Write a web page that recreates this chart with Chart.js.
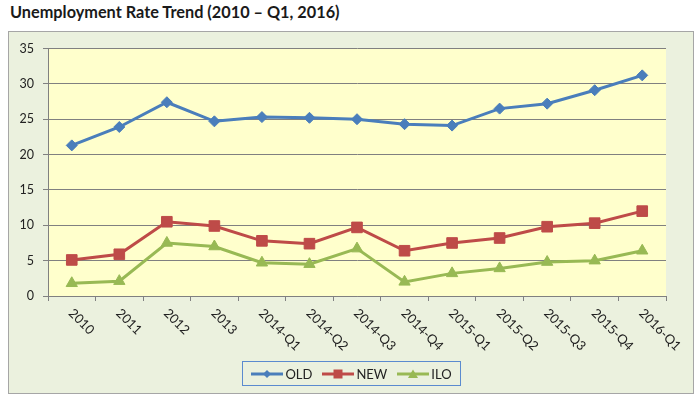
<!DOCTYPE html>
<html>
<head>
<meta charset="utf-8">
<script src="https://cdn.jsdelivr.net/npm/chart.js@4/dist/chart.umd.min.js"></script>
<style>
  body { margin: 0; width: 700px; height: 400px; background: #fff; position: relative; overflow: hidden; font-family: Lato, "Liberation Sans", sans-serif; }
  #title { position: absolute; left: 10px; top: 2px; font-size: 16.3px; font-weight: bold; color: #1a1a1a; white-space: nowrap; }
  #box { position: absolute; left: 8px; top: 31px; width: 684px; height: 361px; background: #ebf1de; border: 1px solid #a6a6a6; }
  #chart { position: absolute; left: 0; top: 0; }
  #legend { position: absolute; left: 233px; top: 329px; width: 217px; height: 23px; border: 1px solid #5b8bcf;
            display: flex; align-items: center; justify-content: center; gap: 10px; font-size: 13px; color: #222; }
  #legend span.item { display: flex; align-items: center; gap: 2px; }
</style>
</head>
<body>
<div id="title">Unemployment Rate Trend (2010 – Q1, 2016)</div>
<div id="box">
  <canvas id="chart" width="684" height="330" style="width:684px;height:330px"></canvas>
  <div id="legend"></div>
</div>
<script>
const categories = ['2010', '2011', '2012', '2013', '2014-Q1', '2014-Q2', '2014-Q3', '2014-Q4',
                    '2015-Q1', '2015-Q2', '2015-Q3', '2015-Q4', '2016-Q1'];
const oldRate = [21.3, 23.9, 27.4, 24.7, 25.3, 25.2, 25.0, 24.3, 24.1, 26.5, 27.2, 29.1, 31.2];
const newRate = [5.1, 5.9, 10.5, 9.9, 7.8, 7.4, 9.7, 6.4, 7.5, 8.2, 9.8, 10.3, 12.0];
const iloRate = [1.8, 2.1, 7.5, 7.0, 4.7, 4.5, 6.7, 2.0, 3.2, 3.9, 4.8, 5.0, 6.4];
const seriesNames = ['OLD', 'NEW', 'ILO'];
const yTicks = [0, 5, 10, 15, 20, 25, 30, 35];

const colors = ['#4a7ebb', '#be4b48', '#98b954'];
const markers = ['rectRot', 'rect', 'triangle'];
const radii = [5.5, 7.5, 6.5];
const gridColor = '#808080';
const fontFamily = 'Lato, "Liberation Sans", sans-serif';

// yellow plot area
const plotBg = {
  id: 'plotBg',
  beforeDraw(chart) {
    const { ctx, chartArea: a } = chart;
    ctx.save();
    ctx.fillStyle = '#ffffcc';
    ctx.fillRect(a.left, a.top, a.right - a.left, a.bottom - a.top);
    ctx.restore();
  }
};

// category labels turned 45 degrees clockwise, like the original
const slantLabels = {
  id: 'slantLabels',
  afterDraw(chart) {
    const { ctx } = chart;
    const xs = chart.scales.x;
    ctx.save();
    ctx.font = '13px ' + fontFamily;
    ctx.fillStyle = '#222';
    ctx.textAlign = 'left';
    ctx.textBaseline = 'middle';
    categories.forEach((c, i) => {
      ctx.save();
      ctx.translate(xs.getPixelForValue(i) - 1, xs.top + 15);
      ctx.rotate(Math.PI / 4);
      ctx.fillText(c, 0, 0);
      ctx.restore();
    });
    ctx.restore();
  }
};

const datasets = [oldRate, newRate, iloRate].map((d, i) => ({
  label: seriesNames[i],
  data: d,
  borderColor: colors[i],
  backgroundColor: colors[i],
  borderWidth: 3,
  pointStyle: markers[i],
  pointRadius: radii[i],
  pointHoverRadius: radii[i],
  pointBorderWidth: 1,
  tension: 0
}));

new Chart(document.getElementById('chart'), {
  type: 'line',
  data: { labels: categories, datasets: datasets },
  options: {
    responsive: false,
    animation: false,
    layout: { padding: { left: 0, right: 27, top: 14, bottom: 0 } },
    plugins: { legend: { display: false }, title: { display: false }, tooltip: { enabled: false } },
    scales: {
      x: {
        offset: true,
        grid: { offset: true, drawOnChartArea: false, color: gridColor, tickLength: 5 },
        border: { color: gridColor },
        ticks: { display: false },
        afterFit(scale) { scale.height = 66; }
      },
      y: {
        min: 0,
        max: 35,
        afterBuildTicks(scale) { scale.ticks = yTicks.map(v => ({ value: v })); },
        grid: { color: gridColor, tickLength: 5 },
        border: { color: gridColor },
        ticks: { padding: 9, color: '#222', font: { family: fontFamily, size: 12.5 } },
        afterFit(scale) { scale.width = 39; }
      }
    }
  },
  plugins: [plotBg, slantLabels]
});

// legend: line with marker, as in the spreadsheet
const legend = document.getElementById('legend');
seriesNames.forEach((name, i) => {
  const item = document.createElement('span');
  item.className = 'item';
  const c = document.createElement('canvas');
  c.width = 32; c.height = 14;
  const g = c.getContext('2d');
  g.strokeStyle = colors[i];
  g.fillStyle = colors[i];
  g.lineWidth = 3;
  g.beginPath(); g.moveTo(0, 7); g.lineTo(32, 7); g.stroke();
  g.beginPath();
  if (markers[i] === 'rectRot') { g.moveTo(16, 3); g.lineTo(20, 7); g.lineTo(16, 11); g.lineTo(12, 7); }
  else if (markers[i] === 'rect') { g.rect(11.5, 2.5, 9, 9); }
  else { g.moveTo(16, 2.5); g.lineTo(21, 11); g.lineTo(11, 11); }
  g.closePath(); g.fill();
  item.appendChild(c);
  const t = document.createElement('span');
  t.textContent = name;
  item.appendChild(t);
  legend.appendChild(item);
});
</script>
</body>
</html>
